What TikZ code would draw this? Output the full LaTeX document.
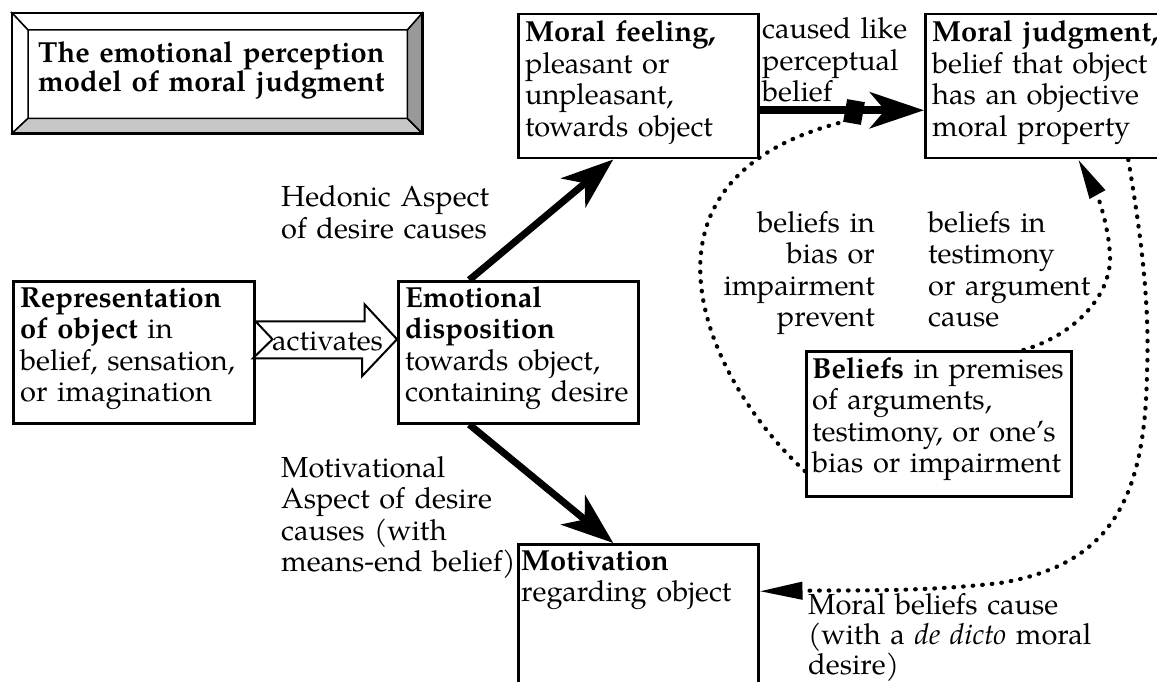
\documentclass[tikz,border=0pt]{standalone}
\usepackage{fontspec}
\setmainfont{TeX Gyre Pagella}
\usetikzlibrary{arrows.meta}
\begin{document}
\begin{tikzpicture}[x=1pt,y=-1pt,
  box/.style={draw, line width=2.5pt, inner sep=0pt, anchor=north west},
  txt/.style={inner sep=0pt, anchor=base west, align=left, text width=400pt, font=\fontsize{29pt}{31.5pt}\selectfont},
  rtxt/.style={txt, anchor=base east, align=right, text width=250pt},
  bigarrow/.style={line width=7pt, -{Stealth[length=52pt,width=38pt,inset=15pt]}},
  dots/.style={line width=4.2pt, line cap=round, dash pattern=on 0.6pt off 9pt},
  blockarrow/.style={draw, line width=2pt, fill=white, line join=miter},
  blocker/.style={fill=black, inner sep=0pt, minimum width=18pt, minimum height=23pt, rotate=-10}
]
\fill[white] (0,0) rectangle (1157,682);
\useasboundingbox (0,0) rectangle (1157,682);

% title box with bevel
\node[inner sep=0pt, minimum width=410pt, minimum height=120pt, anchor=north west] (title) at (12,13) {};
\node[inner sep=0pt, minimum width=379pt, minimum height=88pt, anchor=north west] (titlein) at (28,30) {};
\filldraw[fill=white, line width=1.5pt] (title.north west) -- (title.north east) -- (titlein.north east) -- (titlein.north west) -- cycle;
\filldraw[fill=white, line width=1.5pt] (title.north west) -- (titlein.north west) -- (titlein.south west) -- (title.south west) -- cycle;
\filldraw[fill=black!22, line width=1.5pt] (title.south west) -- (titlein.south west) -- (titlein.south east) -- (title.south east) -- cycle;
\filldraw[fill=black!40, line width=1.5pt] (title.north east) -- (titlein.north east) -- (titlein.south east) -- (title.south east) -- cycle;
\draw[line width=2.5pt] (title.north west) rectangle (title.south east);
\node[txt, font=\fontsize{29pt}{29pt}\selectfont\bfseries] (titlet) at (38,63) {The emotional perception\\model of moral judgment};

% boxes
\node[box, minimum width=240pt, minimum height=144pt] (feel) at (517,13) {};
\node[box, minimum width=236pt, minimum height=144pt] (judg) at (924,13) {};
\node[box, minimum width=241pt, minimum height=142pt] (rep) at (12,280) {};
\node[box, minimum width=240pt, minimum height=142pt] (emo) at (397,280) {};
\node[box, minimum width=265pt, minimum height=145pt] (bel) at (805,350) {};
\node[box, minimum width=240pt, minimum height=150pt] (mot) at (517,543) {};

% box texts
\node[txt] (feelt) at (525,42) {\textbf{Moral feeling,}\\pleasant or\\unpleasant,\\towards object};
\node[txt] (judgt) at (932,42) {\textbf{Moral judgment,}\\belief that object\\has an objective\\moral property};
\node[txt] (rept) at (20,307) {\textbf{Representation}\\\textbf{of object} in\\belief, sensation,\\or imagination};
\node[txt] (emot) at (405,307) {\textbf{Emotional}\\\textbf{disposition}\\towards object,\\containing desire};
\node[txt] (belt) at (812,378) {\textbf{Beliefs} in premises\\of arguments,\\testimony, or one’s\\bias or impairment};
\node[txt] (mott) at (521,570) {\textbf{Motivation}\\regarding object};

% activates block arrow
\draw[blockarrow] ([yshift=13pt]rep.east) ++(17,0) -- ++(-17,-18) -- ++(109,0) -- ++(0,-17)
  -- ([yshift=13pt]emo.west) -- ++(-35,37) -- ++(0,-18) -- ++(-109,0) -- cycle;
\node[txt] (act) at (272,350) {activates};

% solid arrows
\draw[bigarrow] ([xshift=-49pt]emo.north) -- ([xshift=-25pt]feel.south);
\draw[bigarrow] ([xshift=-49pt]emo.south) -- ([xshift=-25pt]mot.north);
\draw[line width=8pt, -{Stealth[length=54pt,width=36pt,inset=15pt]}] ([yshift=-24pt]feel.east) -- ([yshift=-24pt]judg.west);

% dotted connectors
\node[blocker] (blk) at (854,112) {};
\draw[dots] ([yshift=-47.5pt]bel.west) .. controls (705,380) and (615,180) .. (blk.south west);
\draw[dots, -{Triangle[length=40pt,width=17pt]}] ([xshift=84.5pt]bel.north) .. controls (1075,335) and (1112,295) .. (1110,255) .. controls (1108,220) and (1095,190) .. ([xshift=35pt]judg.south);
\draw[dots, -{Triangle[length=43pt,width=17pt]}] ([xshift=85pt]judg.south) .. controls (1140,230) and (1150,300) .. (1147,373) .. controls (1145,500) and (1110,565) .. (1000,583) .. controls (920,592) and (860,590) .. ([yshift=28pt]mot.east);

% labels
\node[txt] (caused) at (762,39) {caused like\\perceptual\\belief};
\node[txt] (hed) at (281,207) {Hedonic Aspect\\of desire causes};
\node[txt] (motiv) at (281,477) {Motivational\\Aspect of desire\\causes (with\\means-end belief)};
\node[rtxt] (prev) at (875,232) {beliefs in\\bias or\\impairment\\prevent};
\node[txt] (cause) at (928,232) {beliefs in\\testimony\\or argument\\cause};
\node[txt, font=\fontsize{29pt}{30pt}\selectfont] (mbc) at (808,614) {Moral beliefs cause\\(with a \textit{de dicto} moral\\desire)};
\end{tikzpicture}
\end{document}
